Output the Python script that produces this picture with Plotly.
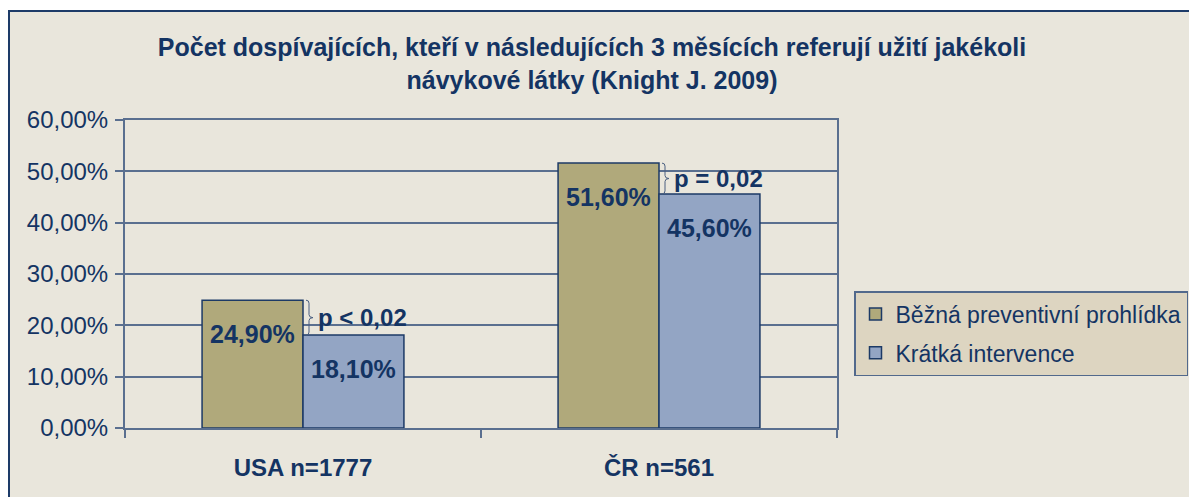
import plotly.graph_objects as go

categories = ["USA n=1777", "ČR n=561"]
series_names = ["Běžná preventivní prohlídka", "Krátká intervence"]
bezna = [24.9, 51.6]
kratka = [18.1, 45.6]
p_labels = ["p &lt; 0,02", "p = 0,02"]
y_ticks = [0, 10, 20, 30, 40, 50, 60]

NAVY = "#143463"
GRID = "#5a6f8f"
OLIVE = "#b0a97b"
BLUE = "#93a5c4"
PLOT_BG = "#ddd5c1"
PAGE_BG = "#e9e6dc"
FONT = "Liberation Sans"

# the page body adds an 8px offset; layout coordinates below are page - 8
W, H = 1197, 497
L, T = 117, 112
PLOT_R, PLOT_B = 829, 420
R, B = W - PLOT_R, H - PLOT_B
pw = PLOT_R - L
ph = PLOT_B - T

BARGAP = 0.433
bw = (1 - BARGAP) / 2
xs = list(range(len(categories)))


def fmt(v):
    return f"{v:.2f}".replace(".", ",") + "%"


fig = go.Figure()
for name, vals, col in [(series_names[0], bezna, OLIVE), (series_names[1], kratka, BLUE)]:
    fig.add_trace(go.Bar(
        x=xs, y=vals, name=name, legendgroup=name,
        marker=dict(color=col, line=dict(color="#1c3a66", width=1.5)),
        hoverinfo="skip",
    ))

annotations = []
shapes = []
px = 1.0 / (pw / 2)  # data units per pixel in x
py = 60.0 / ph       # data units per pixel in y
for i in xs:
    for vals, off in [(bezna, -bw / 2), (kratka, bw / 2)]:
        annotations.append(dict(
            x=i + off, y=vals[i], xref="x", yref="y", text=fmt(vals[i]),
            showarrow=False, yshift=-34, xanchor="center", yanchor="middle",
            font=dict(family=FONT, size=25, color=NAVY, weight="bold"),
        ))
    ytop, ybot = bezna[i], kratka[i]
    ymid = (ytop + ybot) / 2
    x0 = i + 3 * px
    x1 = i + 6 * px
    x2 = i + 10 * px
    e = 3 * py
    path = (f"M {x0},{ytop} Q {x1},{ytop} {x1},{ytop - e} L {x1},{ymid + e} "
            f"Q {x1},{ymid} {x2},{ymid} Q {x1},{ymid} {x1},{ymid - e} "
            f"L {x1},{ybot + e} Q {x1},{ybot} {x0},{ybot}")
    shapes.append(dict(type="path", path=path, xref="x", yref="y",
                       line=dict(color="#4a5f80", width=1)))
    annotations.append(dict(
        x=i, y=ymid, xref="x", yref="y", text=p_labels[i], showarrow=False,
        xshift=13, xanchor="left", yanchor="middle",
        font=dict(family=FONT, size=24, color=NAVY, weight="bold"),
    ))

# page border
shapes.insert(0, dict(
    type="rect", xref="paper", yref="paper",
    x0=(1 - L) / pw, x1=(1187 - L) / pw,
    y0=(PLOT_B - 540) / ph, y1=(PLOT_B - 3) / ph,
    line=dict(color="#1d3b68", width=2), fillcolor=PAGE_BG, layer="below",
))

fig.update_layout(
    width=W, height=H,
    margin=dict(l=L, r=R, t=T, b=B, pad=0),
    paper_bgcolor="white",
    plot_bgcolor=PLOT_BG,
    separators=", ",
    barmode="group", bargap=BARGAP, bargroupgap=0,
    title=dict(
        text="Počet dospívajících, kteří v následujících 3 měsících referují užití jakékoli<br>návykové látky (Knight J. 2009)",
        x=(584 - L) / pw, xref="paper", xanchor="center",
        y=1 - 48 / H, yref="container", yanchor="top",
        font=dict(family=FONT, size=25, color=NAVY, weight="bold"),
    ),
    font=dict(family=FONT, color=NAVY),
    showlegend=True,
    legend=dict(
        x=(846 - L) / pw, xanchor="left", y=(PLOT_B - 283) / ph, yanchor="top",
        bgcolor=PLOT_BG, bordercolor="#52698c", borderwidth=1.5,
        font=dict(family=FONT, size=23, color=NAVY),
        tracegroupgap=6, traceorder="grouped",
    ),
    xaxis=dict(
        range=[-0.5, 1.5], tickvals=xs, ticktext=categories,
        ticks="", ticklabelstandoff=17,
        tickfont=dict(family=FONT, size=24, color=NAVY, weight="bold"),
        showline=True, linecolor=GRID, linewidth=2, mirror=True,
        showgrid=False, zeroline=False,
        minor=dict(tickvals=[-0.5, 0.5, 1.5], ticks="outside", ticklen=8,
                   tickcolor=GRID, tickwidth=1.5, showgrid=False),
        fixedrange=True,
    ),
    yaxis=dict(
        range=[0, 60], tickvals=y_ticks, ticktext=[fmt(v) for v in y_ticks],
        ticks="outside", ticklen=8, tickcolor=GRID, tickwidth=1.5,
        ticklabelstandoff=2,
        tickfont=dict(family=FONT, size=24, color=NAVY),
        showline=True, linecolor=GRID, linewidth=2, mirror=True,
        showgrid=True, gridcolor=GRID, gridwidth=1.5, zeroline=False,
        fixedrange=True,
    ),
    annotations=annotations,
    shapes=shapes,
)

fig.write_html("out.html")
